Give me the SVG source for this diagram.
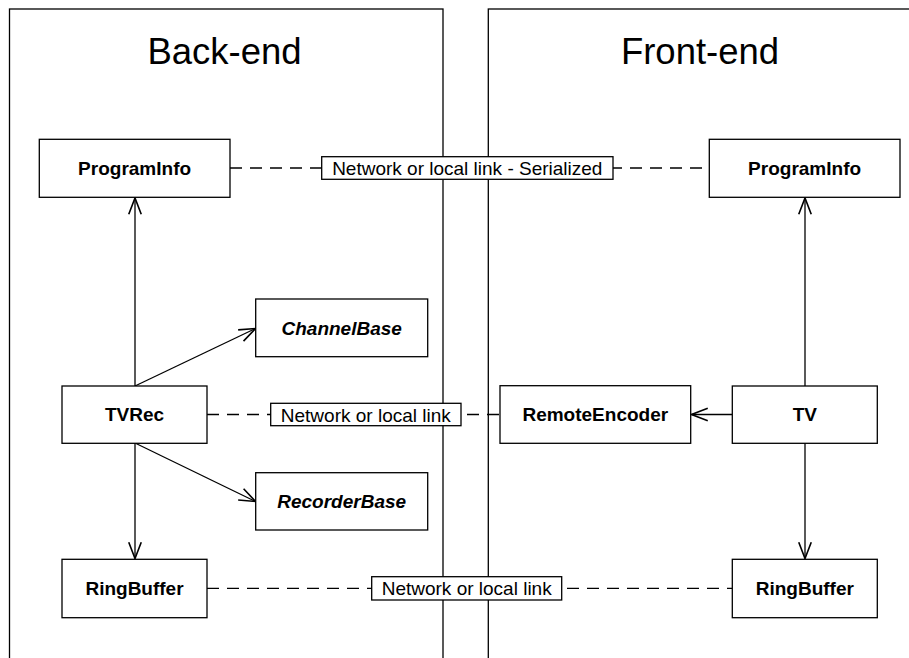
<svg xmlns="http://www.w3.org/2000/svg" width="909" height="658" viewBox="0 0 909 658">
  <style>
    .panel { fill: none; stroke: #000; stroke-width: 1.3; }
    .box { fill: #fff; stroke: #000; stroke-width: 1.3; }
    .title { font-family: "Liberation Sans", Arial, sans-serif; font-size: 36.5px; text-anchor: middle; fill: #000; }
    .name { font-family: "Liberation Sans", Arial, sans-serif; font-size: 19px; font-weight: bold; text-anchor: middle; fill: #000; }
    .abstract { font-style: italic; }
    .edge { fill: none; stroke: #000; stroke-width: 1.3; }
    .link { fill: none; stroke: #000; stroke-width: 1.3; stroke-dasharray: 12 8; }
    .lbl { fill: #fff; stroke: #000; stroke-width: 1.3; }
    .lbltext { font-family: "Liberation Sans", Arial, sans-serif; font-size: 19px; text-anchor: middle; fill: #000; }
  </style>
  <defs>
    <marker id="arrow" markerUnits="userSpaceOnUse" markerWidth="20" markerHeight="20" viewBox="-15 -8 16 16" refX="0" refY="0" orient="auto" overflow="visible">
      <path d="M-13,-5 L0,0 L-13,5" fill="none" stroke="#000" stroke-width="1.3"/>
    </marker>
  </defs>
  <rect width="909" height="658" fill="#fff"/>

  <!-- swimlanes -->
  <g id="backend-lane">
    <rect class="panel" x="9.5" y="9" width="433.5" height="700"/>
    <text class="title" x="224.5" y="64">Back-end</text>
  </g>
  <g id="frontend-lane">
    <rect class="panel" x="488.3" y="9" width="424" height="700"/>
    <text class="title" x="700" y="64">Front-end</text>
  </g>

  <!-- connectors -->
  <g id="connectors">
    <line class="edge" x1="135" y1="386" x2="135" y2="198" marker-end="url(#arrow)"/>
    <line class="edge" x1="135" y1="386" x2="255.5" y2="328.5" marker-end="url(#arrow)"/>
    <line class="edge" x1="135" y1="443" x2="255.5" y2="501.5" marker-end="url(#arrow)"/>
    <line class="edge" x1="135" y1="443" x2="135" y2="558.5" marker-end="url(#arrow)"/>
    <line class="edge" x1="805" y1="386" x2="805" y2="198" marker-end="url(#arrow)"/>
    <line class="edge" x1="732" y1="414.5" x2="691.5" y2="414.5" marker-end="url(#arrow)"/>
    <line class="edge" x1="805" y1="443" x2="805" y2="558.5" marker-end="url(#arrow)"/>

    <line class="link" x1="230" y1="168" x2="709" y2="168"/>
    <line class="link" x1="207" y1="414.5" x2="500" y2="414.5"/>
    <line class="link" x1="207" y1="588.3" x2="732" y2="588.3"/>

    <g id="label-serialized">
      <rect class="lbl" x="321.7" y="156.7" width="291.3" height="22.6"/>
      <text class="lbltext" x="467.3" y="175">Network or local link - Serialized</text>
    </g>
    <g id="label-encoder-link">
      <rect class="lbl" x="270.7" y="403.3" width="190.3" height="22.4"/>
      <text class="lbltext" x="365.8" y="421.5">Network or local link</text>
    </g>
    <g id="label-buffer-link">
      <rect class="lbl" x="371.7" y="576.7" width="190" height="23.3"/>
      <text class="lbltext" x="466.7" y="595">Network or local link</text>
    </g>
  </g>

  <!-- back-end nodes -->
  <g id="be-programinfo">
    <rect class="box" x="39.3" y="139.3" width="190.7" height="58"/>
    <text class="name" x="134.6" y="174.5">ProgramInfo</text>
  </g>
  <g id="be-channelbase">
    <rect class="box" x="255.7" y="299" width="172" height="57.7"/>
    <text class="name abstract" x="341.7" y="334.5">ChannelBase</text>
  </g>
  <g id="be-tvrec">
    <rect class="box" x="62" y="386" width="145" height="57.3"/>
    <text class="name" x="134.5" y="421">TVRec</text>
  </g>
  <g id="be-recorderbase">
    <rect class="box" x="255.7" y="472.7" width="172" height="57.3"/>
    <text class="name abstract" x="341.7" y="508">RecorderBase</text>
  </g>
  <g id="be-ringbuffer">
    <rect class="box" x="62" y="559.3" width="145" height="58.4"/>
    <text class="name" x="134.5" y="595">RingBuffer</text>
  </g>

  <!-- front-end nodes -->
  <g id="fe-programinfo">
    <rect class="box" x="709.3" y="139.3" width="190.7" height="58"/>
    <text class="name" x="804.6" y="174.5">ProgramInfo</text>
  </g>
  <g id="fe-remoteencoder">
    <rect class="box" x="500" y="385.7" width="190.7" height="57.6"/>
    <text class="name" x="595.3" y="421">RemoteEncoder</text>
  </g>
  <g id="fe-tv">
    <rect class="box" x="732.3" y="386" width="145" height="57.3"/>
    <text class="name" x="804.8" y="421">TV</text>
  </g>
  <g id="fe-ringbuffer">
    <rect class="box" x="732.3" y="559.3" width="145" height="58.4"/>
    <text class="name" x="804.8" y="595">RingBuffer</text>
  </g>
</svg>
